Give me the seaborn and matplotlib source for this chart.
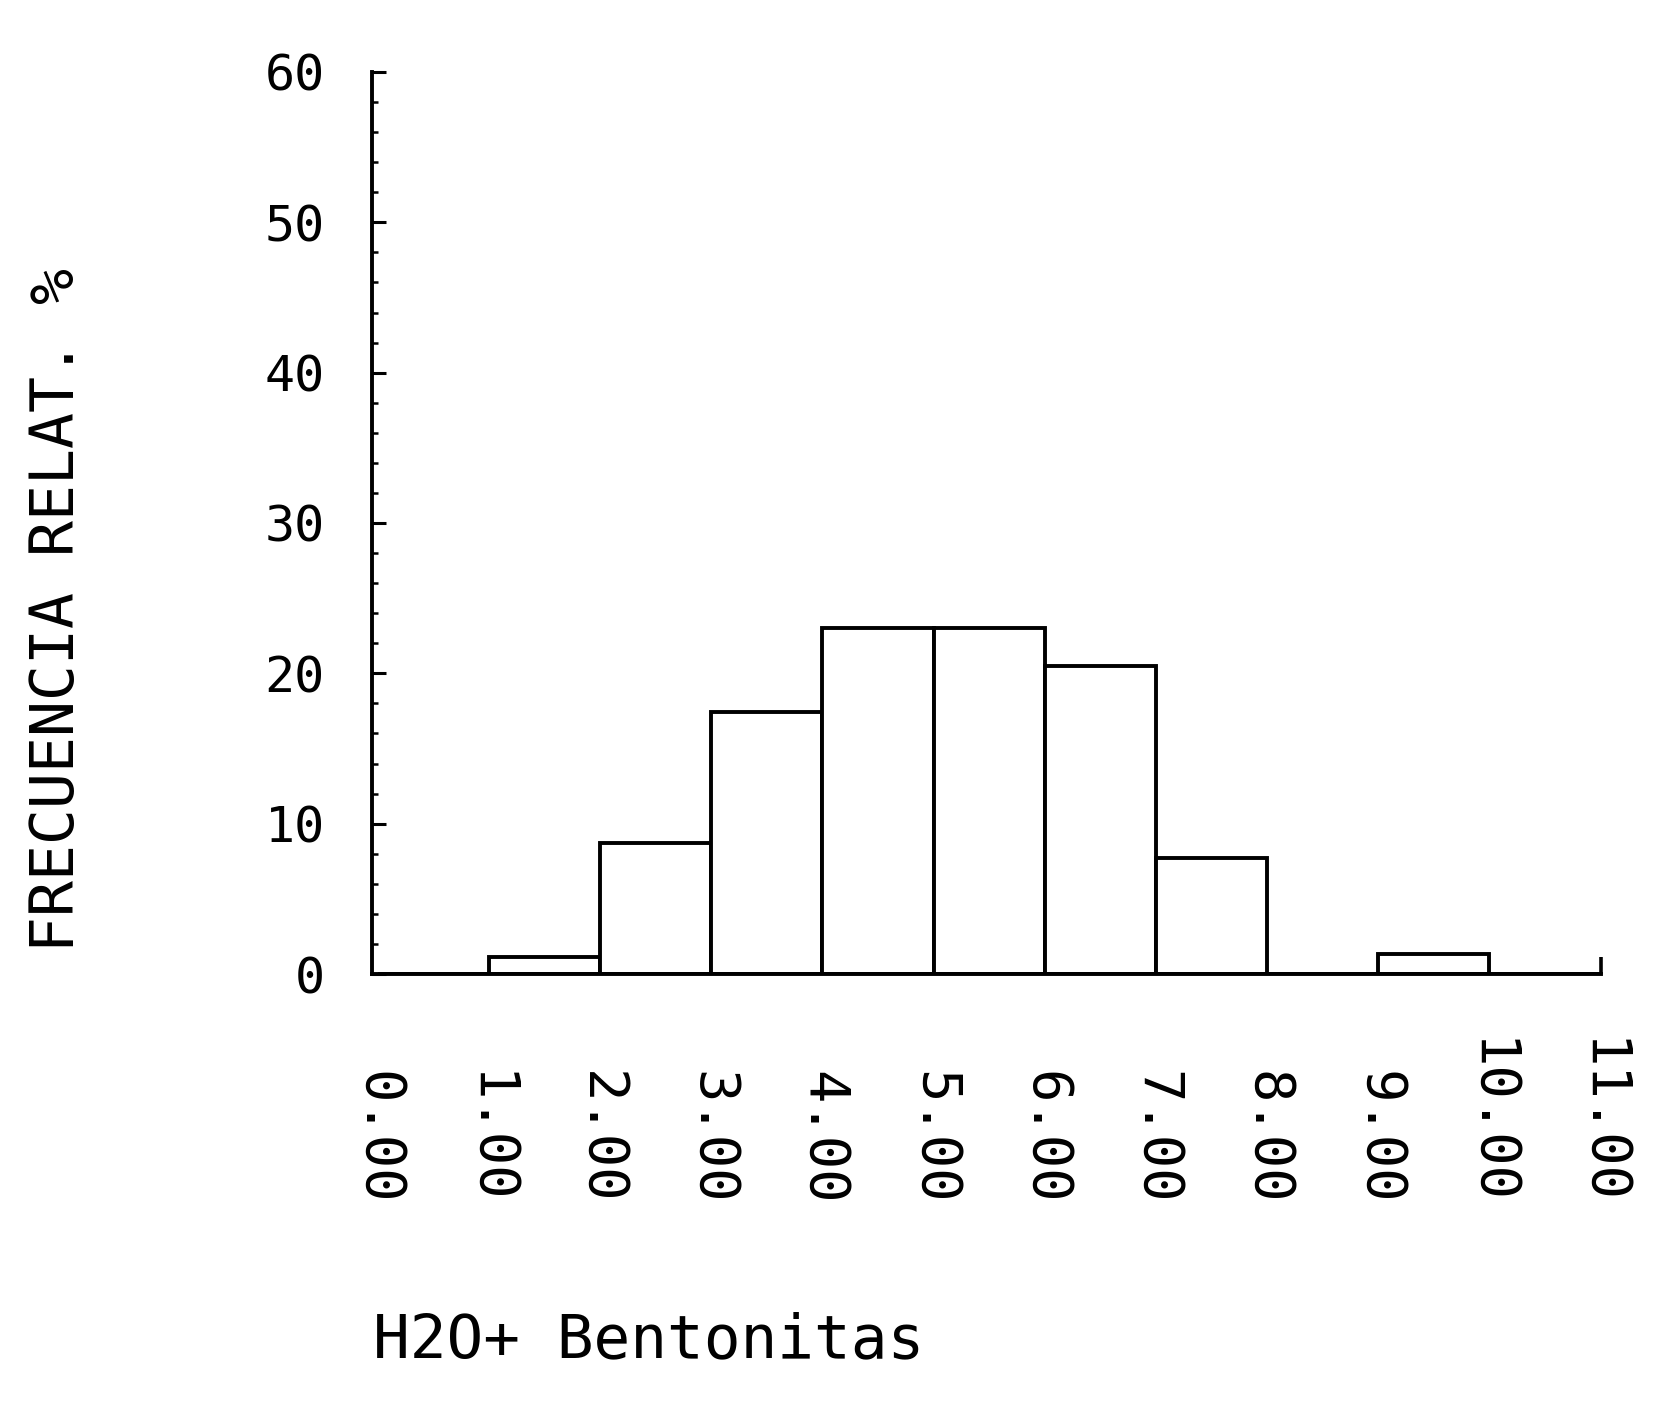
import numpy as np
import pandas as pd
import matplotlib
matplotlib.use("Agg")
import matplotlib.pyplot as plt
import seaborn as sns

# Data (relative frequency %, 1-unit bins from 0 to 11)
bin_edges = [0, 1, 2, 3, 4, 5, 6, 7, 8, 9, 10, 11]
bin_centers = [0.5, 1.5, 2.5, 3.5, 4.5, 5.5, 6.5, 7.5, 8.5, 9.5, 10.5]
freq = [0.0, 1.1, 8.7, 17.4, 23.0, 23.0, 20.5, 7.7, 0.0, 1.3, 0.0]
x_tick_values = [0, 1, 2, 3, 4, 5, 6, 7, 8, 9, 10, 11]
x_tick_labels = ["0.00", "1.00", "2.00", "3.00", "4.00", "5.00", "6.00",
                 "7.00", "8.00", "9.00", "10.00", "11.00"]
y_tick_values = [0, 10, 20, 30, 40, 50, 60]
y_label = "FRECUENCIA RELAT. %"
x_label = "H2O+ Bentonitas"

sns.set_theme(style="white")
plt.rcParams['font.family'] = ['DejaVu Sans Mono', 'DejaVu Sans']

fig = plt.figure(figsize=(16.57, 14.11), dpi=100)
ax = fig.add_axes([0.2245, 0.3097, 0.966 - 0.2245, 0.949 - 0.3097])

df = pd.DataFrame({"x": bin_centers, "w": freq})
sns.histplot(data=df, x="x", weights="w", bins=bin_edges, stat="count",
             color="white", edgecolor="black", linewidth=2.8, alpha=1.0, ax=ax)

ax.set_xlim(-0.05, 11.0)
ax.set_ylim(0, 60)

for s in ["top", "right"]:
    ax.spines[s].set_visible(False)
for s in ["left", "bottom"]:
    ax.spines[s].set_color("black")
    ax.spines[s].set_linewidth(2.8)

ax.set_yticks(y_tick_values)
ax.set_yticks(np.arange(0, 61, 2), minor=True)
ax.set_yticklabels([str(v) for v in y_tick_values], fontsize=36)
ax.tick_params(axis="y", which="major", direction="in", length=10, width=2.2,
               pad=34, colors="black", left=True)
ax.tick_params(axis="y", which="minor", direction="in", length=4, width=1.8,
               colors="black", left=True)

ax.xaxis.remove_overlapping_locs = False
ax.set_xticks(x_tick_values)
ax.set_xticklabels(x_tick_labels, rotation=-90, fontsize=40, va="bottom", ha="center")
ax.tick_params(axis="x", which="major", length=0, pad=166, colors="black")
ax.set_xticks([11], minor=True)
ax.tick_params(axis="x", which="minor", direction="in", length=12, width=2.6,
               colors="black", bottom=True)

ax.set_xlabel("")
ax.set_ylabel("")
fig.text(0.035, 0.568, y_label, rotation=90, fontsize=43, ha="center", va="center",
         color="black")
fig.text(0.225, 0.05, x_label, fontsize=44, ha="left", va="center", color="black")

fig.savefig("out.png", dpi=100, facecolor="white")
